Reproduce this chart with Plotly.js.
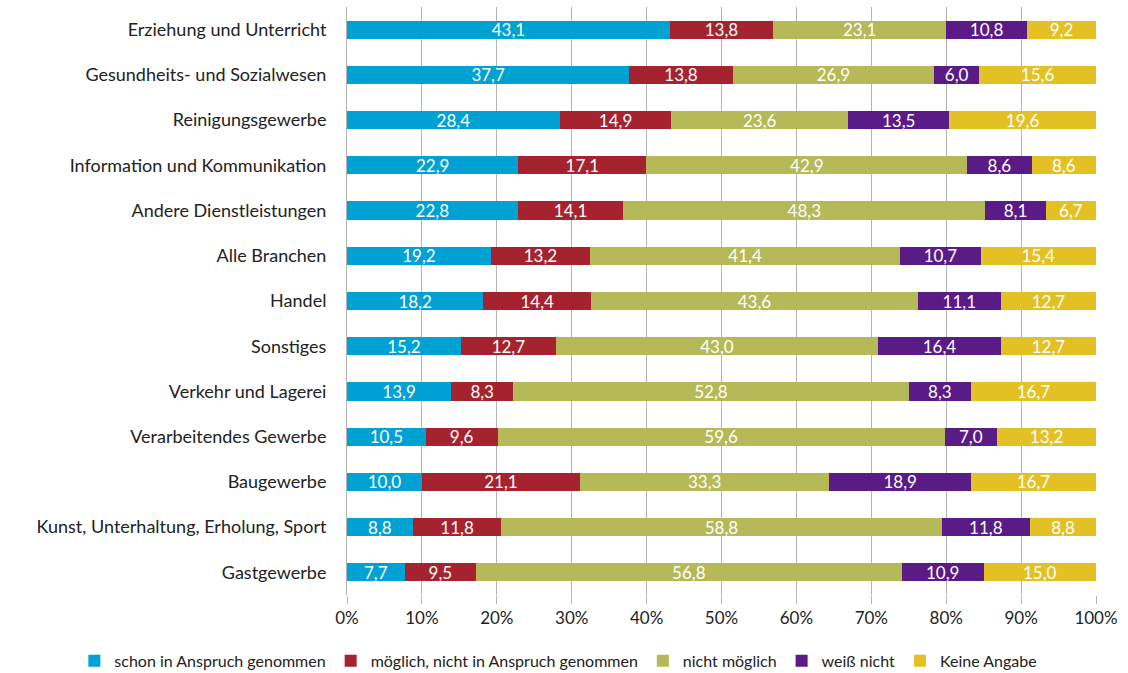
<!DOCTYPE html>
<html><head><meta charset="utf-8">
<script src="https://cdn.plot.ly/plotly-3.0.1.min.js"></script>
<style>html,body{margin:0;padding:0;background:#fff}#chart{width:1128px;height:673px}</style>
</head><body><div id="chart"></div>
<script>
const categories = ["Erziehung und Unterricht","Gesundheits- und Sozialwesen","Reinigungsgewerbe","Information und Kommunikation","Andere Dienstleistungen","Alle Branchen","Handel","Sonstiges","Verkehr und Lagerei","Verarbeitendes Gewerbe","Baugewerbe","Kunst, Unterhaltung, Erholung, Sport","Gastgewerbe"];
const seriesNames = ["schon in Anspruch genommen","möglich, nicht in Anspruch genommen","nicht möglich","weiß nicht","Keine Angabe"];
const schon   = [43.1,37.7,28.4,22.9,22.8,19.2,18.2,15.2,13.9,10.5,10.0,8.8,7.7];
const moeglich= [13.8,13.8,14.9,17.1,14.1,13.2,14.4,12.7,8.3,9.6,21.1,11.8,9.5];
const nicht   = [23.1,26.9,23.6,42.9,48.3,41.4,43.6,43.0,52.8,59.6,33.3,58.8,56.8];
const weiss   = [10.8,6.0,13.5,8.6,8.1,10.7,11.1,16.4,8.3,7.0,18.9,11.8,10.9];
const keine   = [9.2,15.6,19.6,8.6,6.7,15.4,12.7,12.7,16.7,13.2,16.7,8.8,15.0];
const xTicks = [0,10,20,30,40,50,60,70,80,90,100];
const colors = ["#00A1D3","#A5232F","#B5B957","#5B1B86","#E3C124"];
const font = "Lato, 'Open Sans', sans-serif";
const all = [schon,moeglich,nicht,weiss,keine];
const fmt = v => v.toFixed(1).replace('.',',');
const traces = all.map((vals,i)=>({
  type:'bar', orientation:'h', name:seriesNames[i], y:categories, x:vals,
  marker:{color:colors[i], line:{width:0}},
  text:vals.map(fmt), textposition:'inside', insidetextanchor:'middle',
  textfont:{color:'#fff', size:17, family:font}, hoverinfo:'skip'
}));
Plotly.newPlot('chart', traces, {
  width:1128, height:673, barmode:'stack', barnorm:'percent', bargap:0.6,
  margin:{l:347, r:32, t:7, b:78, autoexpand:false},
  paper_bgcolor:'#fff', plot_bgcolor:'#fff',
  font:{family:font, color:'#222'},
  uniformtext:{mode:'show', minsize:17},
  xaxis:{range:[0,100], tickvals:xTicks, ticktext:xTicks.map(v=>v+'%'), showgrid:true, gridcolor:'#b3b3b3', gridwidth:1,
    zeroline:false, showline:false, ticks:'outside', ticklen:8, tickcolor:'#b3b3b3', tickfont:{size:17, color:'#222'}, fixedrange:true},
  yaxis:{autorange:'reversed', showline:true, linecolor:'#b3b3b3', linewidth:1, ticks:'', tickfont:{size:18, color:'#222'}, ticklabelstandoff:16},
  legend:{orientation:'h', x:-0.364, xanchor:'left', y:-0.112, yanchor:'middle',
    font:{size:16, color:'#222'}, traceorder:'normal', itemwidth:30},
  showlegend:true
}, {displayModeBar:false, staticPlot:true});
</script></body></html>
